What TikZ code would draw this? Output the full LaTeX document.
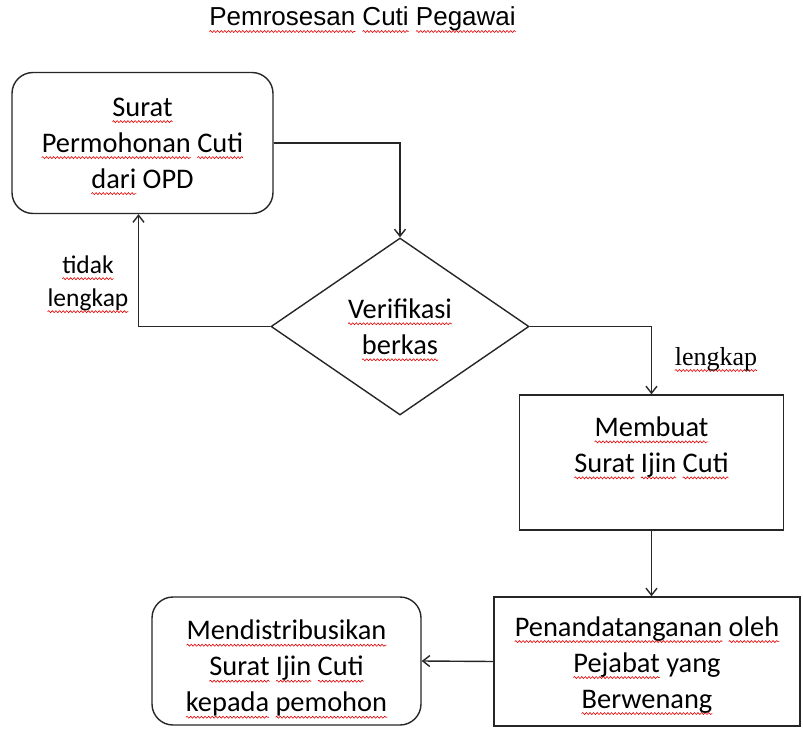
\documentclass[tikz,border=0pt]{standalone}
\usepackage{fontspec}
\setmainfont{Carlito}
\newfontfamily\titlefont{Liberation Sans}
\newfontfamily\seriffont{Liberation Serif}
\usetikzlibrary{shapes.geometric,arrows.meta,decorations.pathmorphing}
\newsavebox\sqbox
\newcommand\sq[1]{\sbox\sqbox{#1}\leavevmode\rlap{\tikz[overlay,baseline=0pt]\draw[sharp corners, solid, red!90!black, line width=0.6pt, decorate, decoration={snake, amplitude=1pt, segment length=3.6pt}] (0pt,-5.5pt) -- (\wd\sqbox,-5.5pt);}\usebox\sqbox}
\tikzset{
  basebox/.style={draw=black!85, line width=1.4pt, align=center, font=\fontsize{28.4}{36}\selectfont, inner sep=0pt},
  roundbox/.style={basebox, rounded corners=21pt},
  squarebox/.style={basebox},
  decision/.style={basebox, diamond, aspect=1.46},
  flow/.style={draw=black!85, line width=1.4pt, -{Straight Barb[length=7pt,width=11pt,line width=1.4pt]}},
  lbl/.style={font=\fontsize{25.5}{33}\selectfont, align=center, inner sep=0pt},
}
\begin{document}
\begin{tikzpicture}[x=1pt,y=-1pt]
\useasboundingbox (0,0) rectangle (803,730);
\node[anchor=base, font=\titlefont\fontsize{26}{30}\selectfont, inner sep=0pt] (title) at (362.5,26) {\sq{Pemrosesan} \sq{Cuti} \sq{Pegawai}};
\node[roundbox, minimum width=261pt, minimum height=141pt] (surat) at (142.5,143) {\sq{Surat}\\\sq{Permohonan} \sq{Cuti}\\\sq{dari} OPD};
\node[decision, minimum width=258pt, minimum height=177pt] (verif) at (400,326.5) {\sq{Verifikasi}\\\sq{berkas}};
\node[squarebox, minimum width=264pt, minimum height=135pt] (membuat) at (651.5,462.5) {\sq{Membuat}\\\sq{Surat} \sq{Ijin} \sq{Cuti}\\\mbox{}};
\node[squarebox, minimum width=306pt, minimum height=129pt] (ttd) at (647,661.5) {\rule{0pt}{26pt}\sq{Penandatanganan} \sq{oleh}\\\sq{Pejabat} yang\\\sq{Berwenang}};
\node[roundbox, minimum width=269pt, minimum height=128pt] (distribusi) at (286.5,661) {\rule{0pt}{34pt}\sq{Mendistribusikan}\\\sq{Surat} \sq{Ijin} \sq{Cuti}\\\sq{kepada} \sq{pemohon}};
\node[lbl] (tidak) at (88,283) {\sq{tidak}\\\sq{lengkap}};
\node[anchor=base, font=\seriffont\fontsize{26}{30}\selectfont, inner sep=0pt] (lengkap) at (716,365) {\sq{lengkap}};
\draw[flow] (surat.east) -| (verif.north);
\draw[flow] (verif.west) -| ([xshift=-4pt]surat.south);
\draw[flow] (verif.east) -| (membuat.north);
\draw[flow] (membuat.south) -- (membuat.south |- ttd.north);
\draw[flow] (ttd.west) -- (distribusi.east);
\end{tikzpicture}
\end{document}
